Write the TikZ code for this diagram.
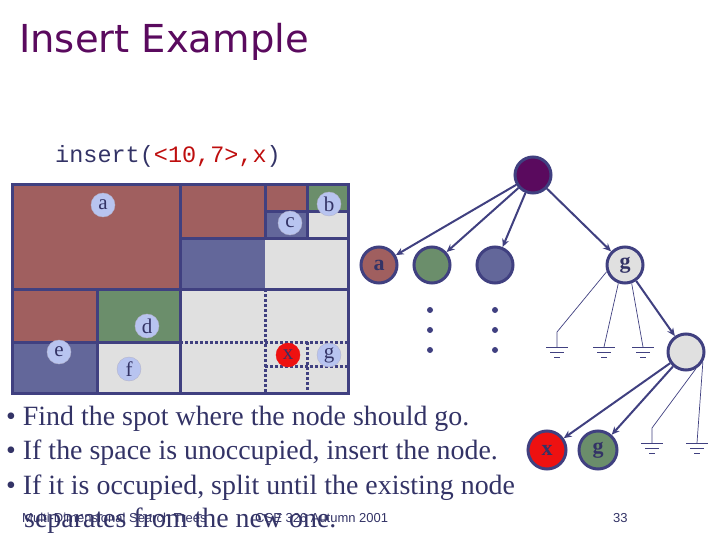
\documentclass[tikz,border=0pt]{standalone}
\usepackage{fontspec}
\setmainfont{Liberation Serif}
\newfontfamily\titlefont{DejaVu Sans}
\newfontfamily\monofont{Liberation Mono}
\newfontfamily\footfont{Liberation Sans}
\usetikzlibrary{arrows.meta,calc}
\definecolor{bd}{HTML}{404080}
\definecolor{rr}{HTML}{A05F5F}
\definecolor{bb}{HTML}{63679A}
\definecolor{gg}{HTML}{6B8E6B}
\definecolor{lg}{HTML}{E0E0E0}
\definecolor{lab}{HTML}{B8C4F0}
\definecolor{ttl}{HTML}{5A0A5E}
\definecolor{txt}{HTML}{333366}
\definecolor{xr}{HTML}{EE1111}
\tikzset{
 reg/.style={draw=bd,line width=3pt},
 dline/.style={draw=bd,line width=3pt,dash pattern=on 3pt off 2pt},
 lbl/.style={circle,fill=lab,draw=bd!40,inner sep=0pt,minimum size=24pt,font=\fontsize{21}{21}\selectfont,text=txt},
 tn/.style={circle,draw=bd,line width=3pt,minimum size=36pt,inner sep=0pt,font=\bfseries\fontsize{22}{22}\selectfont,text=txt},
 arr/.style={draw=bd,line width=2pt,-{Stealth[length=8pt,width=7pt]}},
 thin/.style={draw=bd,line width=0.7pt},
 dot/.style={circle,fill=bd,inner sep=0pt,minimum size=6pt},
 bul/.style={anchor=base west,inner sep=0pt,text=txt,font=\fontsize{27.9}{28}\selectfont},
}
\newcommand{\gnd}[1]{\draw[thin] ($#1+(-11,0)$) -- ($#1+(11,0)$) ($#1+(-7,5)$) -- ($#1+(7,5)$) ($#1+(-3,10)$) -- ($#1+(3,10)$);}
\begin{document}
\begin{tikzpicture}[x=1pt,y=-1pt]
\useasboundingbox (0,0) rectangle (720,540);
\node[anchor=base west,inner sep=0pt,text=ttl,font=\titlefont\fontsize{38.5}{40}\selectfont] (title) at (19,53) {Insert Example};
\node[anchor=base west,inner sep=0pt,font=\monofont\fontsize{23.5}{24}\selectfont] (cmd) at (55,163) {\textcolor{txt}{insert(}\textcolor{xr!80!black}{<10,7>,x}\textcolor{txt}{)}};
% regions
\fill[rr] (12,185) rectangle (180,289);
\fill[rr] (180,185) rectangle (265,238);
\fill[bb] (180,238) rectangle (265,289);
\fill[rr] (265,185) rectangle (307,212);
\fill[bb] (265,212) rectangle (307,238);
\fill[gg] (307,185) rectangle (348,212);
\fill[lg] (307,212) rectangle (348,238);
\fill[lg] (265,238) rectangle (348,289);
\fill[rr] (12,289) rectangle (97,342);
\fill[gg] (97,289) rectangle (180,342);
\fill[bb] (12,342) rectangle (97,393);
\fill[lg] (97,342) rectangle (180,393);
\fill[lg] (180,289) rectangle (348,393);
\draw[reg] (12,185) rectangle (348,393);
\draw[reg] (180,185) -- (180,393) (12,289) -- (348,289) (180,238) -- (348,238) (265,185) -- (265,238) (265,212) -- (348,212) (307,185) -- (307,238) (97,289) -- (97,393) (12,342) -- (180,342);
\draw[dline] (265,289) -- (265,393) (180,342) -- (348,342) (307,342) -- (307,393) (265,366) -- (348,366);
\node[lbl] (la) at (103,205) {a};
\node[lbl] (lb) at (329,204) {b};
\node[lbl] (lc) at (290,223) {c};
\node[lbl] (ld) at (147,326) {d};
\node[lbl] (le) at (59,352) {e};
\node[lbl] (lf) at (129,369) {f};
\node[lbl,fill=xr,draw=xr] (lx) at (288,355) {x};
\node[lbl] (lgg) at (329,355) {g};
% tree
\node[tn,fill=ttl] (root) at (533,175) {};
\node[tn,fill=rr] (ta) at (379,265) {a};
\node[tn,fill=gg] (tgr) at (432,265) {};
\node[tn,fill=bb] (tbl) at (495,265) {};
\node[tn,fill=lg] (tg) at (625,265) {g};
\node[tn,fill=lg] (tl) at (686,352) {};
\node[tn,fill=xr,minimum size=38pt] (tx) at (547,450) {x};
\node[tn,fill=gg,minimum size=38pt] (tg2) at (598,450) {g};
\draw[arr] (root) -- (ta);
\draw[arr] (root) -- (tgr);
\draw[arr] (root) -- (tbl);
\draw[arr] (root) -- (tg);
\draw[arr] (tg) -- (tl);
\draw[arr] (tl) -- (tx);
\draw[arr] (tl) -- (tg2);
\foreach \xx/\nm in {430/p,495/q}{\foreach \yy/\k in {310/1,330/2,350/3}{\node[dot] (d\nm\k) at (\xx,\yy) {};}}
\coordinate (g1) at (557,347); \coordinate (g2) at (604,347); \coordinate (g3) at (643,347);
\coordinate (g4) at (652,443); \coordinate (g5) at (697,443);
\draw[thin] (tg.200) -- (557,332) -- (g1);
\draw[thin] (tg.250) -- (g2);
\draw[thin] (tg.290) -- (g3);
\draw[thin] (tl.300) -- (652,428) -- (g4);
\draw[thin] (tl.330) -- (g5);
\gnd{(g1)}\gnd{(g2)}\gnd{(g3)}\gnd{(g4)}\gnd{(g5)}
% bullets
\node[bul] (b1) at (6,425) {\textbullet\ Find the spot where the node should go.};
\node[bul] (b2) at (6,459) {\textbullet\ If the space is unoccupied, insert the node.};
\node[bul] (b3) at (6,494) {\textbullet\ If it is occupied, split until the existing node};
\node[bul] (b4) at (24,527) {separates from the new one.};
\node[anchor=base west,inner sep=0pt,text=txt,font=\footfont\fontsize{13}{13}\selectfont] (f1) at (22,522) {Multi-Dimensional Search Trees};
\node[anchor=base west,inner sep=0pt,text=txt,font=\footfont\fontsize{13}{13}\selectfont] (f2) at (255,522) {CSE 326 Autumn 2001};
\node[anchor=base west,inner sep=0pt,text=txt,font=\footfont\fontsize{13}{13}\selectfont] (f3) at (613,522) {33};
\end{tikzpicture}
\end{document}
